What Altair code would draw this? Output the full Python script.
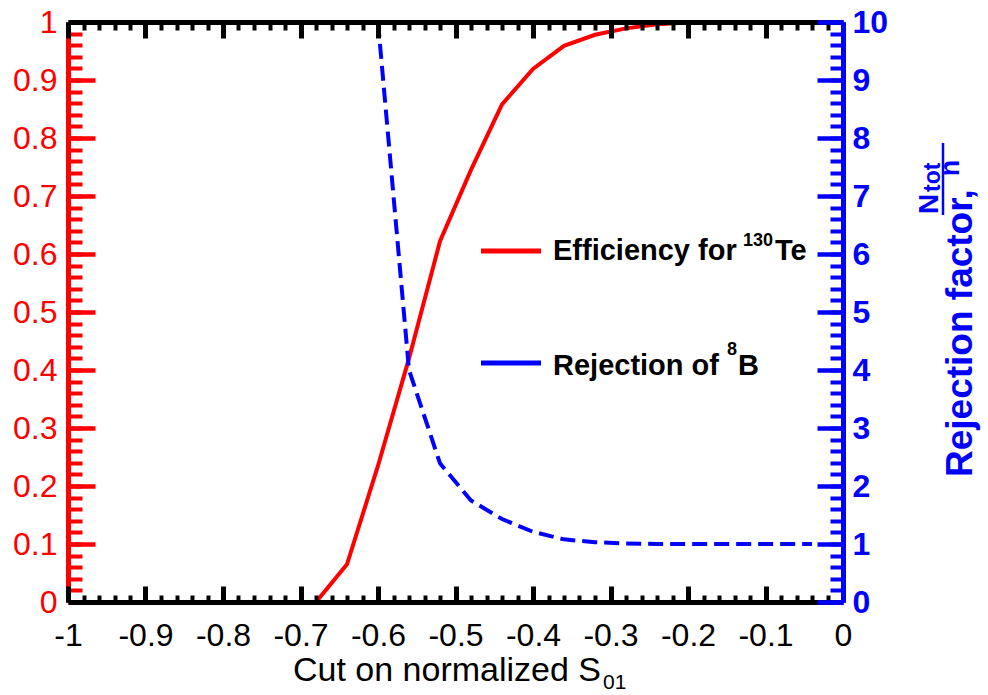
import altair as alt
import pandas as pd

# ---------------- data ----------------
cut_eff = [-0.72, -0.68, -0.64, -0.60, -0.56, -0.52, -0.48, -0.44, -0.40,
           -0.36, -0.32, -0.28, -0.24, -0.20, -0.16, -0.12, -0.08, -0.04]
efficiency = [0.0, 0.0, 0.065, 0.235, 0.42, 0.622, 0.745, 0.858, 0.919,
              0.959, 0.978, 0.989, 0.996, 0.999, 1.0, 1.0, 1.0, 1.0]

cut_rej = [-0.60, -0.56, -0.52, -0.48, -0.44, -0.40, -0.36, -0.32, -0.28,
           -0.24, -0.20, -0.16, -0.12, -0.08, -0.04]
rejection = [10.0, 4.0, 2.39, 1.75, 1.43, 1.21, 1.08, 1.03, 1.01,
             1.0, 1.0, 1.0, 1.0, 1.0, 1.0]

x_major = [round(-1 + 0.1 * i, 1) for i in range(11)]
x_minor = [round(-1 + 0.02 * i, 2) for i in range(51)]
left_major = [round(0.1 * i, 1) for i in range(11)]
left_minor = [round(0.02 * i, 2) for i in range(51)]
right_major = list(range(11))
right_minor = [round(0.2 * i, 1) for i in range(51)]

legend_main = ["Efficiency for", "Rejection of"]
legend_sup = ["130", "8"]
legend_tail = ["Te", "B"]
x_title = ["Cut on normalized S", "01"]
y2_title = ["Rejection factor,", "N", "tot", "n"]

eff_df = pd.DataFrame({"cut": cut_eff, "value": efficiency})
rej_df = pd.DataFrame({"cut": cut_rej, "value": rejection})

# ---------------- layout ----------------
PL, PT, W, H = 68, 22, 775, 580
FONT = "Liberation Sans"
RED, BLUE, BLACK = "#ff0000", "#0000ff", "#000000"

xs = alt.Scale(domain=[-1, 0], nice=False, zero=False)
ys_left = alt.Scale(domain=[0, 1], nice=False, zero=False)
ys_right = alt.Scale(domain=[0, 10], nice=False, zero=False)


def tick_axis(orient, values, length, width, color, z):
    return alt.Axis(orient=orient, values=values, title=None, labels=False,
                    domain=False, grid=False, ticks=True,
                    tickSize=alt.ExprRef(expr=str(-length)),
                    tickWidth=width, tickColor=color, zindex=z)


def label_axis(orient, values, color, weight, padding, domain_color, z):
    return alt.Axis(orient=orient, values=values, title=None, ticks=False,
                    grid=False, domain=True, domainColor=domain_color,
                    domainWidth=5, labels=True,
                    labelExpr="toString(datum.value)", labelFont=FONT,
                    labelFontSize=32, labelFontWeight=weight,
                    labelColor=color, labelPadding=padding,
                    labelFlush=False, labelOverlap=False, zindex=z)


# ---- red group (left scale) ----
u1 = alt.Chart(eff_df).mark_line(color=RED, strokeWidth=4).encode(
    x=alt.X("cut:Q", scale=xs,
            axis=label_axis("bottom", x_major, BLACK, "normal", 18, BLACK, 2)),
    y=alt.Y("value:Q", scale=ys_left,
            axis=label_axis("left", left_major, RED, "normal", 11, RED, 1)),
)
u2 = alt.Chart(eff_df).mark_line(opacity=0).encode(
    x=alt.X("cut:Q", scale=xs, axis=tick_axis("bottom", x_major, 16, 5, BLACK, 2)),
    y=alt.Y("value:Q", scale=ys_left, axis=tick_axis("left", left_major, 27, 4.5, RED, 1)),
)
u3 = alt.Chart(eff_df).mark_line(opacity=0).encode(
    x=alt.X("cut:Q", scale=xs, axis=tick_axis("bottom", x_minor, 7, 4, BLACK, 2)),
    y=alt.Y("value:Q", scale=ys_left, axis=tick_axis("left", left_minor, 14, 4, RED, 1)),
)
red_group = alt.layer(u1, u2, u3).resolve_axis(x="independent", y="independent")

# ---- blue group (right scale) ----
top_axis = alt.Axis(orient="top", values=x_major, title=None, labels=False,
                    domain=True, domainColor=BLACK, domainWidth=5, grid=False,
                    ticks=True, tickSize=alt.ExprRef(expr="-16"), tickWidth=5,
                    tickColor=BLACK, zindex=2)
u4 = alt.Chart(rej_df).mark_line(color=BLUE, strokeWidth=4, strokeDash=[15, 7],
                                 clip=True).encode(
    x=alt.X("cut:Q", scale=xs, axis=top_axis),
    y=alt.Y("value:Q", scale=ys_right,
            axis=label_axis("right", right_major, BLUE, "bold", 9, BLUE, 3)),
)
u5 = alt.Chart(rej_df).mark_line(opacity=0).encode(
    x=alt.X("cut:Q", scale=xs, axis=tick_axis("top", x_minor, 8, 4, BLACK, 2)),
    y=alt.Y("value:Q", scale=ys_right, axis=tick_axis("right", right_major, 26, 4.5, BLUE, 3)),
)
u6 = alt.Chart(rej_df).mark_line(opacity=0).encode(
    x=alt.X("cut:Q", scale=xs, axis=None),
    y=alt.Y("value:Q", scale=ys_right, axis=tick_axis("right", right_minor, 13, 4, BLUE, 3)),
)
blue_group = alt.layer(u4, u5, u6).resolve_axis(x="independent", y="independent")


# ---------------- annotations ----------------
def txt(text, x, y, size, color=BLACK, weight="normal", align="left", angle=0):
    return alt.Chart(pd.DataFrame({"t": [text]})).mark_text(
        font=FONT, fontSize=size, fontWeight=weight, color=color, align=align,
        baseline="alphabetic", angle=angle,
    ).encode(x=alt.value(x - PL), y=alt.value(y - PT), text="t:N")


def seg(x1, x2, y1, y2, color, width):
    return alt.Chart(pd.DataFrame({"k": [0]})).mark_rule(
        color=color, strokeWidth=width).encode(
        x=alt.value(x1 - PL), x2=alt.value(x2 - PL),
        y=alt.value(y1 - PT), y2=alt.value(y2 - PT))


legend = [
    seg(481, 541, 251, 251, RED, 5),
    txt(legend_main[0], 553, 260, 29, weight="bold"),
    txt(legend_sup[0], 743, 246, 18, weight="bold"),
    txt(legend_tail[0], 775, 260, 29, weight="bold"),
    seg(481, 541, 363, 363, BLUE, 5),
    txt(legend_main[1], 553, 375, 29, weight="bold"),
    txt(legend_sup[1], 727, 355, 18, weight="bold"),
    txt(legend_tail[1], 738, 375, 29, weight="bold"),
]

titles = [
    txt(x_title[0], 601, 681, 34, align="right"),
    txt(x_title[1], 603, 689, 21),
    txt(y2_title[0], 972, 477, 37, color=BLUE, weight="bold", angle=270),
    txt(y2_title[1], 938, 214, 28, color=BLUE, weight="bold", angle=270),
    txt(y2_title[2], 940, 192, 23, color=BLUE, weight="bold", angle=270),
    seg(943, 943, 143, 215, BLUE, 2.5),
    txt(y2_title[3], 959, 168, 27, color=BLUE, weight="bold", align="center", angle=270),
]

chart = alt.layer(red_group, blue_group, *legend, *titles).resolve_scale(
    y="independent"
).resolve_axis(x="independent", y="independent").properties(
    width=W, height=H,
    padding={"left": PL, "top": PT, "right": 988 - PL - W, "bottom": 695 - PT - H},
    autosize=alt.AutoSizeParams(type="none"),
    background="white",
).configure_view(stroke=None)

chart.save("out.html", embed_options={"renderer": "svg", "actions": False})
